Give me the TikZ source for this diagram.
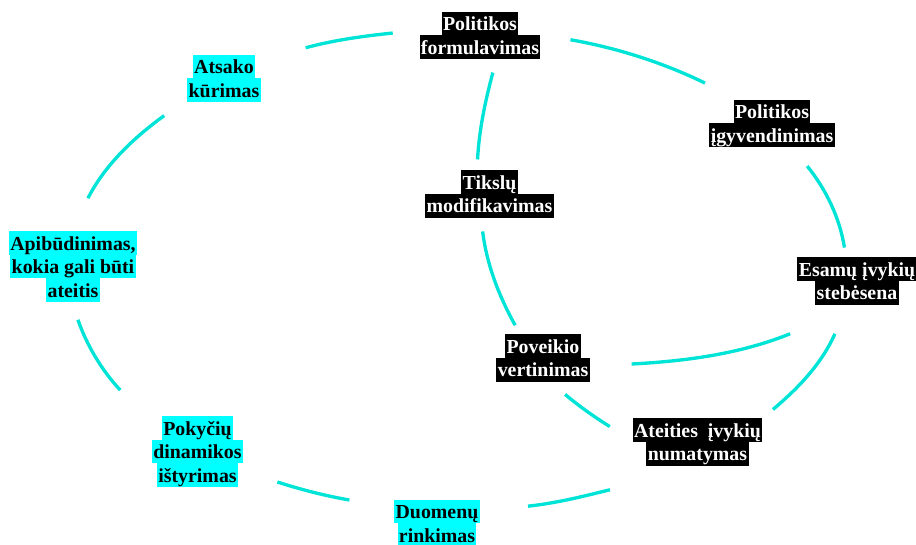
\documentclass[tikz,border=0pt]{standalone}
\usepackage{fontspec}
\setmainfont{Liberation Serif}
\definecolor{zydrafonas}{RGB}{0,255,255}
\definecolor{linija}{RGB}{0,228,216}
\newcommand{\juoda}[1]{{\setlength{\fboxsep}{0pt}\colorbox{black}{\rule[-2.6pt]{0pt}{13.4pt}\hspace{0.8pt}\textcolor{white}{#1}\hspace{0.8pt}}}}
\newcommand{\zydra}[1]{{\setlength{\fboxsep}{0pt}\colorbox{zydrafonas}{\rule[-2.6pt]{0pt}{13.4pt}\hspace{0.8pt}#1\hspace{0.8pt}}}}
\tikzset{
  etapas/.style={inner sep=0pt, outer sep=0pt, align=center, font=\fontsize{11.3}{13.4}\selectfont\bfseries},
  jungtis/.style={draw=linija, line width=1.9pt},
}
\begin{document}
\begin{tikzpicture}[x=0.2mm, y=0.2mm]
    \useasboundingbox (0,0) rectangle (916,545);
    \node[etapas] (polform) at (480,509.5) {\juoda{Politikos}\\\juoda{formulavimas}};
    \node[etapas] (polig) at (772,421.5) {\juoda{Politikos}\\\juoda{įgyvendinimas}};
    \node[etapas] (esam) at (857,264) {\juoda{Esamų įvykių}\\\juoda{stebėsena}};
    \node[etapas] (ateit) at (697.5,103) {\juoda{Ateities~~įvykių}\\\juoda{numatymas}};
    \node[etapas] (povei) at (543,187) {\juoda{Poveikio}\\\juoda{vertinimas}};
    \node[etapas] (tiksl) at (489.5,351) {\juoda{Tikslų}\\\juoda{modifikavimas}};
    \node[etapas] (atsak) at (224,466.5) {\zydra{Atsako}\\\zydra{kūrimas}};
    \node[etapas] (apib) at (73,278.5) {\zydra{Apibūdinimas,}\\\zydra{kokia gali būti}\\\zydra{ateitis}};
    \node[etapas] (pokyc) at (197.5,93.5) {\zydra{Pokyčių}\\\zydra{dinamikos}\\\zydra{ištyrimas}};
    \node[etapas] (duom) at (437,21.5) {\zydra{Duomenų}\\\zydra{rinkimas}};

    \draw[jungtis, shorten <=0.93cm, shorten >=0.54cm] (atsak.27) to[out=15, in=-174, out distance=1.53cm, in distance=1.14cm] (polform.175);
    \draw[jungtis, shorten <=0.61cm, shorten >=0.77cm] (polform.1) to[out=-10, in=154, out distance=1.55cm, in distance=1.71cm] (polig.144);
    \draw[jungtis, shorten <=0.49cm, shorten >=0.2cm] (polig.-50) to[out=-51, in=99, out distance=1.09cm, in distance=0.8cm] (esam.115);
    \draw[jungtis, shorten <=0.64cm, shorten >=0.28cm] (esam.-111) to[out=-114, in=40, out distance=1.3cm, in distance=0.94cm] (ateit.20);
    \draw[jungtis, shorten <=2.0cm, shorten >=0.97cm] (ateit.-68) to[out=-166, in=6, out distance=2.56cm, in distance=1.53cm] (duom.16);
    \draw[jungtis, shorten <=0.91cm, shorten >=0.72cm] (duom.160) to[out=170, in=-18, out distance=1.41cm, in distance=1.22cm] (pokyc.-23);
    \draw[jungtis, shorten <=0.93cm, shorten >=0.38cm] (pokyc.149) to[out=133, in=-71, out distance=1.47cm, in distance=0.92cm] (apib.-92);
    \draw[jungtis, shorten <=0.74cm, shorten >=0.57cm] (apib.93) to[out=63, in=-144, out distance=1.49cm, in distance=1.32cm] (atsak.-151);
    \draw[jungtis, shorten <=0.28cm, shorten >=0.22cm] (polform.-55) to[out=-105, in=87, out distance=0.87cm, in distance=0.81cm] (tiksl.118);
    \draw[jungtis, shorten <=0.28cm, shorten >=0.21cm] (tiksl.-110) to[out=-83, in=119, out distance=0.95cm, in distance=0.88cm] (povei.134);
    \draw[jungtis, shorten <=0.4cm, shorten >=0.54cm] (povei.-74) to[out=-40, in=148, out distance=0.77cm, in distance=0.91cm] (ateit.179);
    \draw[jungtis, shorten <=1.56cm, shorten >=0.84cm] (esam.-77) to[out=-158, in=3, out distance=2.64cm, in distance=1.92cm] (povei.-10);
\end{tikzpicture}
\end{document}
